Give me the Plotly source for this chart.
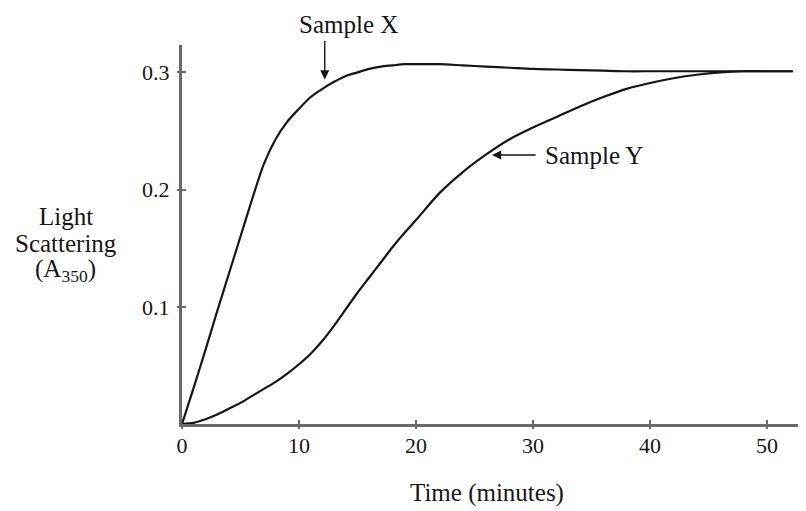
import plotly.graph_objects as go

# Time (minutes)
time_min = [0, 1, 2, 3, 4, 5, 6, 7, 8, 9, 10, 11, 12, 13, 14, 15, 16, 17, 18, 19, 20,
            22, 24, 26, 28, 30, 32, 34, 36, 38, 40, 42, 44, 46, 48, 50, 52.2]
# Sample X light scattering (A350)
sample_x = [0, 0.031, 0.063, 0.096, 0.128, 0.160, 0.192, 0.222, 0.243, 0.258, 0.269, 0.279,
            0.286, 0.292, 0.297, 0.300, 0.303, 0.305, 0.306, 0.307, 0.307,
            0.307, 0.306, 0.305, 0.304, 0.303, 0.3025, 0.302, 0.3015, 0.301, 0.301,
            0.301, 0.301, 0.301, 0.301, 0.301, 0.301]
# Sample Y light scattering (A350)
sample_y = [0, 0.001, 0.004, 0.008, 0.013, 0.018, 0.024, 0.030, 0.036, 0.043, 0.051, 0.060,
            0.071, 0.084, 0.098, 0.112, 0.125, 0.138, 0.151, 0.163, 0.174,
            0.197, 0.215, 0.230, 0.243, 0.253, 0.262, 0.271, 0.279, 0.286, 0.291,
            0.295, 0.298, 0.300, 0.301, 0.301, 0.301]

x_ticks = [0, 10, 20, 30, 40, 50]
y_ticks = [0.1, 0.2, 0.3]
y_tick_text = ["0.1", "0.2", "0.3"]

x_range = [0, 53.33]
y_range = [0, 0.3234]

SERIF = "Liberation Serif, Times New Roman, serif"
AXIS_COLOR = "#6a6a6a"
LINE_COLOR = "#151515"
TEXT_COLOR = "#151515"

fig = go.Figure()
fig.add_trace(go.Scatter(x=time_min, y=sample_x, mode="lines", name="Sample X",
                         line=dict(color=LINE_COLOR, width=2.2, shape="spline", smoothing=0.8),
                         showlegend=False, hoverinfo="skip", cliponaxis=False))
fig.add_trace(go.Scatter(x=time_min, y=sample_y, mode="lines", name="Sample Y",
                         line=dict(color=LINE_COLOR, width=2.2, shape="spline", smoothing=0.8),
                         showlegend=False, hoverinfo="skip", cliponaxis=False))
# invisible trace for the overlay (outside-tick) axes
fig.add_trace(go.Scatter(x=[None], y=[None], xaxis="x2", yaxis="y2", showlegend=False,
                         hoverinfo="skip"))

common_tick = dict(ticklen=4, tickwidth=2, tickcolor=AXIS_COLOR)

# page body has an 8px margin, so the figure is 8px smaller and margins shifted
fig.update_layout(
    width=798, height=503,
    margin=dict(l=174, r=0, t=37, b=87, autoexpand=False),
    paper_bgcolor="white", plot_bgcolor="white",
    font=dict(family=SERIF, color=TEXT_COLOR, size=22),
    xaxis=dict(range=x_range, tickvals=x_ticks, ticks="inside", showgrid=False,
               zeroline=False, showline=True, linecolor=AXIS_COLOR, linewidth=3,
               tickfont=dict(size=22, family=SERIF, color=TEXT_COLOR),
               ticklabelstandoff=0, automargin=False, **common_tick),
    yaxis=dict(range=y_range, tickvals=y_ticks, ticktext=y_tick_text, ticks="inside",
               showgrid=False, zeroline=False, showline=True, linecolor=AXIS_COLOR,
               linewidth=3, tickfont=dict(size=22, family=SERIF, color=TEXT_COLOR),
               ticklabelstandoff=5, automargin=False, **common_tick),
    xaxis2=dict(range=x_range, tickvals=x_ticks, ticks="outside", overlaying="x",
                showticklabels=False, showgrid=False, zeroline=False, showline=False,
                **common_tick),
    yaxis2=dict(range=y_range, tickvals=y_ticks, ticks="outside", overlaying="y",
                showticklabels=False, showgrid=False, zeroline=False, showline=False,
                **common_tick),
)

TXT = dict(family=SERIF, size=25, color=TEXT_COLOR)

# Sample X label and arrow
fig.add_annotation(x=14.27, y=1.055, xref="x", yref="paper", text="Sample X",
                   showarrow=False, font=TXT, xanchor="center", yanchor="middle")
fig.add_annotation(x=12.2, y=0.294, xref="x", yref="y", text="", showarrow=True,
                   ax=0, ay=-40, arrowhead=2, arrowsize=1.3, arrowwidth=1.4,
                   arrowcolor=LINE_COLOR, standoff=0)
# Sample Y label and arrow
fig.add_annotation(x=30.85, y=0.2295, xref="x", yref="y", text="Sample Y",
                   showarrow=False, font=TXT, xanchor="left", yanchor="middle")
fig.add_annotation(x=26.5, y=0.2295, xref="x", yref="y", text="", showarrow=True,
                   ax=45, ay=0, arrowhead=2, arrowsize=1.3, arrowwidth=1.4,
                   arrowcolor=LINE_COLOR, standoff=0)

# Y axis title (three lines)
fig.add_annotation(x=-0.186, y=(424 - 216) / 379, xref="paper", yref="paper",
                   text="Light", showarrow=False, font=TXT, xanchor="center", yanchor="middle")
fig.add_annotation(x=-0.186, y=(424 - 243) / 379, xref="paper", yref="paper",
                   text="Scattering", showarrow=False, font=TXT, xanchor="center",
                   yanchor="middle")
fig.add_annotation(x=-0.186, y=(424 - 270) / 379, xref="paper", yref="paper",
                   text="(A<sub>350</sub>)", showarrow=False, font=TXT, xanchor="center",
                   yanchor="middle")
# X axis title
fig.add_annotation(x=26.07, y=-0.182, xref="x", yref="paper", text="Time (minutes)",
                   showarrow=False, font=TXT, xanchor="center", yanchor="middle")

fig.write_html("out.html")
